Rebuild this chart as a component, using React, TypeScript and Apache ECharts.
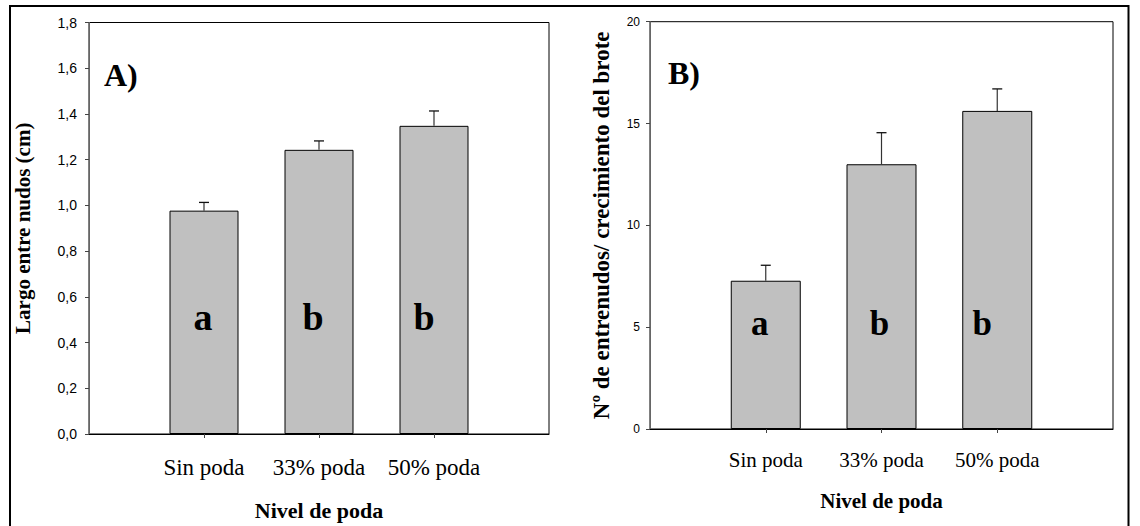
import React, { useEffect, useRef } from "react";
import * as echarts from "echarts";

const categories = ["Sin poda", "33% poda", "50% poda"];
const letters = ["a", "b", "b"];
const lengthMeans = [0.977, 1.243, 1.348];
const lengthErrors = [0.036, 0.039, 0.065];
const countMeans = [7.28, 13.0, 15.62];
const countErrors = [0.76, 1.55, 1.08];
const leftLetterShift = [-1, -6, -10];
const rightLetterShift = [-6, -2, -15];

const SERIF = "'Liberation Serif', 'Times New Roman', serif";
const SANS = "'Liberation Sans', Arial, sans-serif";

function errorRender(params: any, api: any) {
  const x = api.value(0);
  const v = api.value(1);
  const e = api.value(2);
  const p0 = api.coord([x, v]);
  const p1 = api.coord([x, v + e]);
  return {
    type: "group",
    children: [
      { type: "line", shape: { x1: p0[0], y1: p0[1], x2: p1[0], y2: p1[1] }, style: { stroke: "#333", lineWidth: 1.2 } },
      { type: "line", shape: { x1: p1[0] - 5, y1: p1[1], x2: p1[0] + 5, y2: p1[1] }, style: { stroke: "#111", lineWidth: 1.3 } },
    ],
  };
}

function panelAxes(idx: number, fontLabel: number, nameSize: number, nameGap: number, margin: number) {
  return {
    type: "category",
    gridIndex: idx,
    data: ["", ...categories, ""],
    boundaryGap: false,
    name: "Nivel de poda",
    nameLocation: "middle",
    nameGap,
    nameTextStyle: { fontFamily: SERIF, fontWeight: "bold", fontSize: nameSize, color: "#000" },
    axisLine: { lineStyle: { color: "#000", width: 1 } },
    axisTick: { show: true, length: 4, interval: (i: number) => i >= 1 && i <= 3, lineStyle: { color: "#444" } },
    axisLabel: { interval: 0, fontFamily: SERIF, fontSize: fontLabel, color: "#000", margin },
    splitLine: { show: false },
  };
}

export default function App() {
  const ref = useRef<HTMLDivElement>(null);
  useEffect(() => {
    if (!ref.current) return;
    const chart = echarts.init(ref.current, undefined, { renderer: "svg" });
    const option: any = {
      animation: false,
      backgroundColor: "#fff",
      title: [
        { text: "A)", left: 99, top: 54, textStyle: { fontFamily: SERIF, fontWeight: "bold", fontSize: 32, color: "#000" } },
        { text: "B)", left: 663, top: 52, textStyle: { fontFamily: SERIF, fontWeight: "bold", fontSize: 32, color: "#000" } },
      ],
      graphic: [
        { type: "rect", shape: { x: 10, y: 6, width: 1118.5, height: 524 }, style: { fill: "none", stroke: "#000", lineWidth: 2 }, silent: true },
      ],
      grid: [
        { left: 89, top: 22.5, width: 460, height: 417, show: true, borderColor: "#000", borderWidth: 1, backgroundColor: "transparent" },
        { left: 650, top: 21.7, width: 463, height: 407.3, show: true, borderColor: "#000", borderWidth: 1, backgroundColor: "transparent" },
      ],
      xAxis: [panelAxes(0, 23, 22, 65, 22), panelAxes(1, 21, 21, 61, 20)],
      yAxis: [
        {
          type: "value",
          gridIndex: 0,
          min: 0,
          max: 1.8,
          interval: 0.2,
          name: "Largo entre nudos (cm)",
          nameLocation: "middle",
          nameRotate: 90,
          nameGap: 56,
          nameTextStyle: { fontFamily: SERIF, fontWeight: "bold", fontSize: 21, color: "#000" },
          axisLine: { show: true, lineStyle: { color: "#666" } },
          axisTick: { show: true, length: 4, lineStyle: { color: "#444" } },
          axisLabel: { fontFamily: SANS, fontSize: 14, color: "#000", margin: 12, formatter: (v: number) => v.toFixed(1).replace(".", ",") },
          splitLine: { show: false },
        },
        {
          type: "value",
          gridIndex: 1,
          min: 0,
          max: 20,
          interval: 5,
          name: "Nº de entrenudos/ crecimiento del brote",
          nameLocation: "middle",
          nameRotate: 90,
          nameGap: 37,
          nameTextStyle: { fontFamily: SERIF, fontWeight: "bold", fontSize: 23, color: "#000" },
          axisLine: { show: true, lineStyle: { color: "#666" } },
          axisTick: { show: true, length: 4, lineStyle: { color: "#444" } },
          axisLabel: { fontFamily: SANS, fontSize: 12, color: "#000", margin: 10 },
          splitLine: { show: false },
        },
      ],
      series: [
        {
          type: "bar",
          xAxisIndex: 0,
          yAxisIndex: 0,
          barWidth: 69,
          itemStyle: { color: "#c0c0c0", borderColor: "#000", borderWidth: 1 },
          label: { show: true, position: "insideBottom", distance: 98, fontFamily: SERIF, fontWeight: "bold", fontSize: 38, color: "#000" },
          data: lengthMeans.map((v, i) => ({
            value: [i + 1, v],
            label: { formatter: letters[i], offset: [leftLetterShift[i], 0] },
          })),
        },
        {
          type: "custom",
          xAxisIndex: 0,
          yAxisIndex: 0,
          renderItem: errorRender,
          z: 5,
          data: lengthMeans.map((v, i) => [i + 1, v, lengthErrors[i]]),
        },
        {
          type: "bar",
          xAxisIndex: 1,
          yAxisIndex: 1,
          barWidth: 70,
          itemStyle: { color: "#c0c0c0", borderColor: "#000", borderWidth: 1 },
          label: { show: true, position: "insideBottom", distance: 88, fontFamily: SERIF, fontWeight: "bold", fontSize: 35, color: "#000" },
          data: countMeans.map((v, i) => ({
            value: [i + 1, v],
            label: { formatter: letters[i], offset: [rightLetterShift[i], 0] },
          })),
        },
        {
          type: "custom",
          xAxisIndex: 1,
          yAxisIndex: 1,
          renderItem: errorRender,
          z: 5,
          data: countMeans.map((v, i) => [i + 1, v, countErrors[i]]),
        },
      ],
    };
    chart.setOption(option);
    return () => chart.dispose();
  }, []);
  return <div ref={ref} style={{ position: "fixed", left: 0, top: 0, width: 1140, height: 526, background: "#fff" }} />;
}
